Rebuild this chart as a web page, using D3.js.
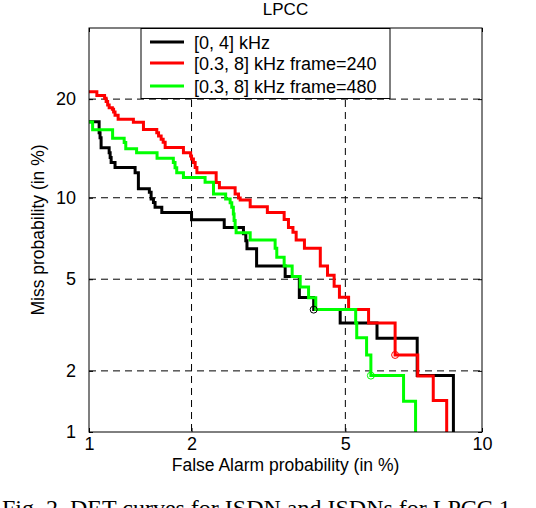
<!DOCTYPE html>
<html>
<head>
<meta charset="utf-8">
<script src="https://cdn.jsdelivr.net/npm/d3@7"></script>
<style>
  body { margin: 0; background: #fff; }
  svg { display: block; }
</style>
</head>
<body>
<script>
const title = 'LPCC';
const seriesNames = ['[0, 4] kHz', '[0.3, 8] kHz frame=240', '[0.3, 8] kHz frame=480'];
const xTicks = [1, 2, 5, 10];
const yTicks = [1, 2, 5, 10, 20];
const xRange = [1, 10];
const yRange = [1, 30];

// [false alarm %, miss %] where each flat step begins
const black = [[1.0,17.3],[1.074,16.07],[1.081,15.54],[1.089,14.5],[1.152,14.0],[1.16,13.52],[1.168,13.05],[1.2,12.58],
  [1.377,12.1],[1.408,10.72],[1.516,10.43],[1.534,9.9],[1.558,9.64],[1.575,9.27],[1.647,8.9],[2.0,8.38],[2.46,7.87],
  [2.77,7.46],[2.81,7.04],[2.83,6.57],[3.0,5.64],[3.555,5.13],[3.86,4.21],[4.19,3.75],[4.86,3.29],[5.93,2.82],
  [7.3,1.9],[8.73,0.9]];
const red = [[1.0,20.92],[1.057,20.46],[1.116,20.1],[1.128,19.69],[1.14,19.27],[1.152,18.94],[1.178,18.75],[1.188,18.42],
  [1.2,18.06],[1.226,17.57],[1.361,17.24],[1.457,16.43],[1.593,16.07],[1.612,15.72],[1.64,15.36],[1.662,15.05],
  [1.684,14.51],[1.898,14.0],[1.988,13.68],[2.0,13.37],[2.024,13.05],[2.047,12.58],[2.07,12.11],[2.339,11.24],
  [2.387,10.8],[2.632,10.3],[2.687,9.99],[2.715,9.82],[2.886,9.32],[3.2,8.9],[3.534,8.4],[3.624,7.87],[3.72,7.56],
  [3.79,7.08],[3.975,6.6],[4.35,5.64],[4.53,5.18],[4.7,4.68],[4.84,4.22],[5.09,3.75],[5.67,3.29],[6.52,2.37],
  [7.32,1.89],[7.91,1.44],[8.45,0.9]];
const green = [[1.0,17.27],[1.026,16.4],[1.18,15.48],[1.278,15.03],[1.292,14.4],[1.391,14.0],[1.596,13.46],[1.777,13.05],
  [1.797,12.55],[1.817,12.11],[1.898,11.68],[2.181,11.27],[2.3,10.3],[2.482,9.9],[2.552,9.62],[2.578,9.27],[2.603,8.79],
  [2.615,8.33],[2.632,7.87],[2.648,7.53],[2.886,7.08],[3.351,6.6],[3.384,6.09],[3.534,5.64],[3.703,5.13],[3.879,4.65],
  [4.07,4.2],[4.24,3.75],[5.29,3.29],[5.32,2.83],[5.61,2.37],[5.74,1.9],[6.81,1.43],[7.24,0.9]];
// operating points marked with a circle
const marks = [[4.19,3.75],[6.52,2.37],[5.74,1.9]];

const colors = ['#000000', '#ff0000', '#00ff00'];
const font = '"Liberation Sans", Arial, sans-serif';

// inverse normal cdf (Acklam)
function probit(p) {
  const a = [-39.6968302866538, 220.946098424521, -275.928510446969, 138.357751867269, -30.6647980661472, 2.50662827745924];
  const b = [-54.4760987982241, 161.585836858041, -155.698979859887, 66.8013118877197, -13.2806815528857];
  const c = [-0.00778489400243029, -0.322396458041136, -2.40075827716184, -2.54973253934373, 4.37466414146497, 2.93816398269878];
  const d = [0.00778469570904146, 0.32246712907004, 2.445134137143, 3.75440866190742];
  const lo = 0.02425;
  let q, r;
  if (p < lo) {
    q = Math.sqrt(-2 * Math.log(p));
    return (((((c[0]*q+c[1])*q+c[2])*q+c[3])*q+c[4])*q+c[5]) / ((((d[0]*q+d[1])*q+d[2])*q+d[3])*q+1);
  } else if (p <= 1 - lo) {
    q = p - 0.5; r = q * q;
    return (((((a[0]*r+a[1])*r+a[2])*r+a[3])*r+a[4])*r+a[5])*q / (((((b[0]*r+b[1])*r+b[2])*r+b[3])*r+b[4])*r+1);
  }
  q = Math.sqrt(-2 * Math.log(1 - p));
  return -(((((c[0]*q+c[1])*q+c[2])*q+c[3])*q+c[4])*q+c[5]) / ((((d[0]*q+d[1])*q+d[2])*q+d[3])*q+1);
}
const pr = v => probit(v / 100);

const width = 536, height = 508;
const padL = 89, padR = 482, padT = 28, padB = 432;

const svg = d3.select('body').append('svg')
  .attr('width', width)
  .attr('height', height);

const xScale = d3.scaleLinear().domain(xRange.map(pr)).range([padL, padR]);
const yScale = d3.scaleLinear().domain(yRange.map(pr)).range([padB, padT]);
const X = v => xScale(pr(v));
const Y = v => yScale(pr(v));

svg.append('defs').append('clipPath').attr('id', 'plot')
  .append('rect').attr('x', padL).attr('y', padT).attr('width', padR - padL).attr('height', padB - padT);

// dashed grid
svg.selectAll('.gx').data(xTicks.filter(v => v > xRange[0] && v < xRange[1])).enter()
  .append('line')
  .attr('x1', d => X(d)).attr('x2', d => X(d))
  .attr('y1', padT).attr('y2', padB)
  .attr('stroke', '#000').attr('stroke-width', 1).attr('stroke-dasharray', '7,5');
svg.selectAll('.gy').data(yTicks.filter(v => v > yRange[0] && v < yRange[1])).enter()
  .append('line')
  .attr('y1', d => Y(d)).attr('y2', d => Y(d))
  .attr('x1', padL).attr('x2', padR)
  .attr('stroke', '#000').attr('stroke-width', 1).attr('stroke-dasharray', '7,5');

// axes, ticks inside like matlab
const fmtX = (d, i) => xTicks[i];
const fmtY = (d, i) => yTicks[i];
svg.append('g')
  .attr('transform', `translate(0, ${padB})`)
  .call(d3.axisBottom(xScale).tickValues(xTicks.map(pr)).tickFormat(fmtX).tickSize(-4).tickPadding(5));
svg.append('g')
  .attr('transform', `translate(${padL}, 0)`)
  .call(d3.axisLeft(yScale).tickValues(yTicks.map(pr)).tickFormat(fmtY).tickSize(-4).tickPadding(13));
svg.append('g')
  .attr('transform', `translate(0, ${padT})`)
  .call(d3.axisTop(xScale).tickValues(xTicks.map(pr)).tickFormat('').tickSize(-4));
svg.append('g')
  .attr('transform', `translate(${padR}, 0)`)
  .call(d3.axisRight(yScale).tickValues(yTicks.map(pr)).tickFormat('').tickSize(-4));
svg.selectAll('.domain').remove();
svg.selectAll('.tick line').attr('stroke', '#000');
svg.selectAll('.tick text')
  .attr('font-family', font)
  .attr('font-size', 18)
  .attr('fill', '#000');

// curves
const line = d3.line()
  .x(d => X(d[0]))
  .y(d => Y(d[1]))
  .curve(d3.curveStepAfter);

const curves = svg.append('g').attr('clip-path', 'url(#plot)');
[black, red, green].forEach((s, i) => {
  curves.append('path')
    .attr('d', line(s))
    .attr('fill', 'none')
    .attr('stroke', colors[i])
    .attr('stroke-width', 3);
});
curves.selectAll('circle').data(marks).enter()
  .append('circle')
  .attr('cx', d => X(d[0]))
  .attr('cy', d => Y(d[1]))
  .attr('r', 3.5)
  .attr('fill', 'none')
  .attr('stroke', (d, i) => colors[i])
  .attr('stroke-width', 1);

// frame
svg.append('rect')
  .attr('x', padL).attr('y', padT)
  .attr('width', padR - padL).attr('height', padB - padT)
  .attr('fill', 'none').attr('stroke', '#000').attr('stroke-width', 1);

// legend
const legend = svg.append('g');
legend.append('rect')
  .attr('x', 141).attr('y', padT + 0.5)
  .attr('width', 249).attr('height', 70)
  .attr('fill', '#fff').attr('stroke', '#000').attr('stroke-width', 1);
seriesNames.forEach((name, i) => {
  const ly = [42, 63, 86][i];
  legend.append('line')
    .attr('x1', 150).attr('x2', 184)
    .attr('y1', ly).attr('y2', ly)
    .attr('stroke', colors[i]).attr('stroke-width', 3);
  legend.append('text')
    .attr('x', 194).attr('y', ly + 7)
    .attr('font-family', font).attr('font-size', 18)
    .text(name);
});

// titles
svg.append('text')
  .attr('x', (padL + padR) / 2).attr('y', 15)
  .attr('text-anchor', 'middle')
  .attr('font-family', font).attr('font-size', 17)
  .text(title);
svg.append('text')
  .attr('x', (padL + padR) / 2).attr('y', 471)
  .attr('text-anchor', 'middle')
  .attr('font-family', font).attr('font-size', 17.5)
  .text('False Alarm probability (in %)');
svg.append('text')
  .attr('transform', `translate(44, ${(padT + padB) / 2}) rotate(-90)`)
  .attr('text-anchor', 'middle')
  .attr('font-family', font).attr('font-size', 17.5)
  .text('Miss probability (in %)');

// caption, cut off by the page edge
svg.append('text')
  .attr('x', 2).attr('y', 516)
  .attr('font-family', '"Liberation Serif", "Times New Roman", serif')
  .attr('font-size', 24)
  .text('Fig. 2. DET curves for ISDN and ISDNs for LPCC 1');
</script>
</body>
</html>
